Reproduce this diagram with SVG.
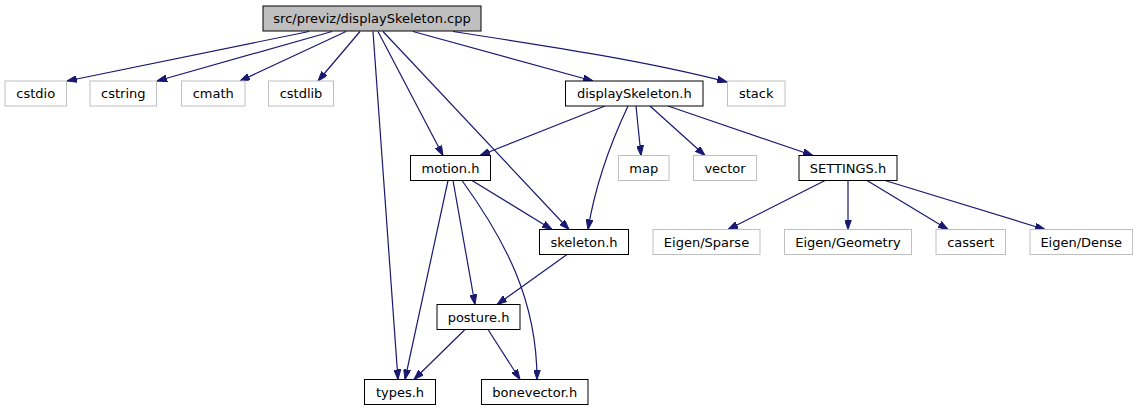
<svg xmlns="http://www.w3.org/2000/svg" width="1138" height="411" viewBox="0 0 1138 411">
<style>
.n rect{fill:#fff;stroke:#000;stroke-width:1}
.g rect{fill:#fff;stroke:#bfbfbf;stroke-width:1}
.root rect{fill:#bfbfbf;stroke:#000;stroke-width:1}
text{font-family:"DejaVu Sans",sans-serif;font-size:13px;fill:#000;text-anchor:middle}
#edges path{fill:none;stroke:#191970;stroke-width:1.2;marker-end:url(#ah)}
</style>
<defs>
<marker id="ah" markerUnits="userSpaceOnUse" markerWidth="10" markerHeight="7" refX="10" refY="3.5" orient="auto">
<path d="M0,0 L10,3.5 L0,7 z" fill="#191970" stroke="#191970" stroke-width="1"/>
</marker>
</defs>
<rect width="1138" height="411" fill="#fff"/>
<g id="edges">
<path d="M309,31.5 L67,81"/>
<path d="M332,31.5 L157,81"/>
<path d="M346,31.5 L240,81"/>
<path d="M360,31.5 L318,81"/>
<path d="M413,31.5 L593,81"/>
<path d="M453,31.5 C560,48 650,62 727,82"/>
<path d="M378,31.5 L443,155.5"/>
<path d="M383,31.5 L569,229.5"/>
<path d="M373,31.5 L398,379.5"/>
<path d="M605,106 L480,155.5"/>
<path d="M628,106 C612,140 596,180 588,229.5"/>
<path d="M636,106 L641,155.5"/>
<path d="M650,106 L705,155.5"/>
<path d="M668,106 L813,155.5"/>
<path d="M825,180.5 L728,229.5"/>
<path d="M848,180.5 L848,229.5"/>
<path d="M867,180.5 L948,229.5"/>
<path d="M885,180.5 L1045,229.5"/>
<path d="M472,180.5 L552,229.5"/>
<path d="M453,180.5 L475,304.5"/>
<path d="M448,180.5 L405,379.5"/>
<path d="M462,180.5 C505,240 537,300 537,379.5"/>
<path d="M567,254.5 L497,304.5"/>
<path d="M465,329.5 L414,379.5"/>
<path d="M488,329.5 L520,379.5"/>
</g>
<g id="node-root" class="root"><rect x="263" y="6" width="218" height="25"/><text x="372" y="23">src/previz/displaySkeleton.cpp</text></g>
<g id="node-cstdio" class="g"><rect x="5" y="81" width="61.5" height="25"/><text x="35.75" y="98">cstdio</text></g>
<g id="node-cstring" class="g"><rect x="90" y="81" width="66.5" height="25"/><text x="123.25" y="98">cstring</text></g>
<g id="node-cmath" class="g"><rect x="181.5" y="81" width="63.5" height="25"/><text x="213.25" y="98">cmath</text></g>
<g id="node-cstdlib" class="g"><rect x="268.5" y="81" width="65" height="25"/><text x="301" y="98">cstdlib</text></g>
<g id="node-displaySkeleton" class="n"><rect x="565.5" y="81" width="137.5" height="25"/><text x="634.25" y="98">displaySkeleton.h</text></g>
<g id="node-stack" class="g"><rect x="727.5" y="81" width="57.5" height="25"/><text x="756.25" y="98">stack</text></g>
<g id="node-motion" class="n"><rect x="410.5" y="155.5" width="80" height="25"/><text x="450.5" y="172.5">motion.h</text></g>
<g id="node-map" class="g"><rect x="618.5" y="155.5" width="50.5" height="25"/><text x="643.75" y="172.5">map</text></g>
<g id="node-vector" class="g"><rect x="693.5" y="155.5" width="63" height="25"/><text x="725" y="172.5">vector</text></g>
<g id="node-settings" class="n"><rect x="799" y="155.5" width="98" height="25"/><text x="848" y="172.5">SETTINGS.h</text></g>
<g id="node-skeleton" class="n"><rect x="539.5" y="229.5" width="89" height="25"/><text x="584" y="246.5">skeleton.h</text></g>
<g id="node-eigen-sparse" class="g"><rect x="653" y="229.5" width="107" height="25"/><text x="706.5" y="246.5">Eigen/Sparse</text></g>
<g id="node-eigen-geometry" class="g"><rect x="784.5" y="229.5" width="127" height="25"/><text x="848" y="246.5">Eigen/Geometry</text></g>
<g id="node-cassert" class="g"><rect x="936" y="229.5" width="69.5" height="25"/><text x="970.75" y="246.5">cassert</text></g>
<g id="node-eigen-dense" class="g"><rect x="1030" y="229.5" width="102.5" height="25"/><text x="1081.25" y="246.5">Eigen/Dense</text></g>
<g id="node-posture" class="n"><rect x="437" y="304.5" width="83" height="25"/><text x="478.5" y="321.5">posture.h</text></g>
<g id="node-types" class="n"><rect x="364.5" y="379.5" width="71" height="25"/><text x="400" y="396.5">types.h</text></g>
<g id="node-bonevector" class="n"><rect x="481.5" y="379.5" width="106.5" height="25"/><text x="534.75" y="396.5">bonevector.h</text></g>
</svg>
